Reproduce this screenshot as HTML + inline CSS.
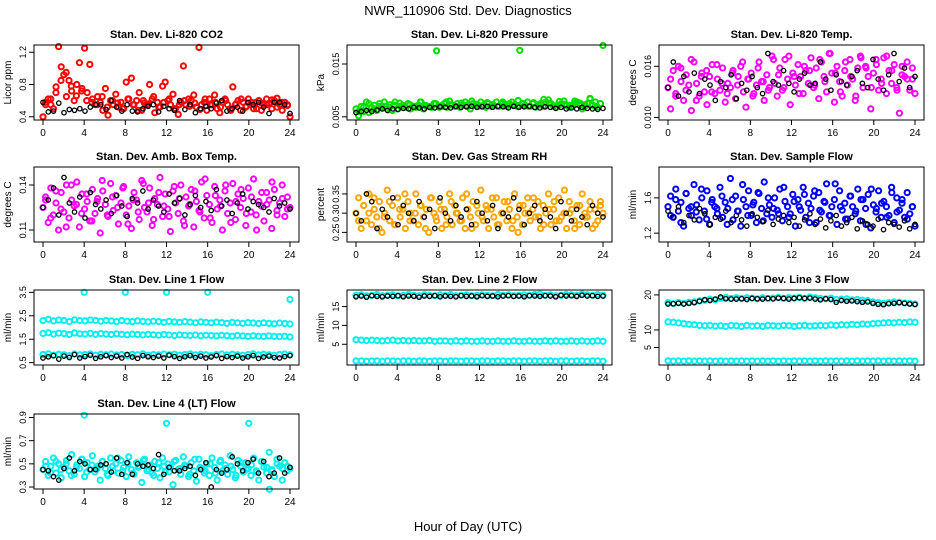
<!DOCTYPE html>
<html><head><meta charset="utf-8"><style>
body{margin:0;background:#fff;}
svg{display:block;font-family:"Liberation Sans",Arial,sans-serif;}
</style></head><body>
<svg id="chart" width="936" height="540" viewBox="0 0 936 540" xmlns="http://www.w3.org/2000/svg">
<rect width="936" height="540" fill="#fff"/>
<text x="468" y="15" font-size="13" text-anchor="middle">NWR_110906  Std. Dev. Diagnostics</text>
<text x="468" y="531" font-size="13" text-anchor="middle">Hour of Day (UTC)</text>
<g id="plots"></g>
</svg>
<script>
const xTicks=[0,4,8,12,16,20,24];
// CO2
const co2Red=[0.40,0.58,0.62,0.55,0.50,0.77,1.27,1.02,0.92,0.65,0.85,0.72,0.60,0.80,1.07,0.75,1.25,0.70,1.05,0.62,0.55,0.65,0.58,0.48,0.75,0.42,0.60,0.55,0.68,0.52,0.58,0.50,0.83,0.62,0.88,0.55,0.60,0.70,0.48,0.57,0.55,0.80,0.62,0.45,0.58,0.52,0.78,0.83,0.60,0.55,0.68,0.50,0.43,0.58,1.03,0.55,0.62,0.60,0.67,0.52,1.26,0.55,0.58,0.48,0.62,0.55,0.67,0.50,0.45,0.58,0.62,0.55,0.50,0.77,0.55,0.60,0.48,0.58,0.52,0.62,0.55,0.50,0.58,0.60,0.48,0.55,0.62,0.57,0.50,0.60,0.63,0.55,0.48,0.58,0.55,0.40];
const co2Red2=[0.55,0.62,0.70,0.85,0.95,0.78,0.66,0.72,0.60,0.58,0.55,0.65,0.52,0.60,0.57,0.50,0.62,0.55,0.48,0.60,0.56,0.65,0.52,0.58,0.62,0.50,0.55,0.60,0.53,0.57,0.49,0.62,0.55,0.58,0.52,0.60,0.48,0.56,0.62,0.53,0.58,0.50,0.57,0.55,0.61,0.52,0.58,0.54];
const co2Black=[0.58,0.46,0.47,0.57,0.45,0.49,0.48,0.50,0.47,0.52,0.55,0.55,0.49,0.60,0.52,0.47,0.55,0.47,0.46,0.50,0.53,0.55,0.46,0.53,0.50,0.48,0.60,0.49,0.55,0.45,0.50,0.53,0.50,0.57,0.60,0.47,0.50,0.52,0.47,0.58,0.55,0.58,0.52,0.44,0.58,0.58,0.55,0.44];
// Pressure (x 0.001 kPa)
const presGreen=[6.5,5.2,7.0,6.0,7.8,5.8,6.8,7.2,6.2,7.5,6.8,7.0,6.5,7.3,6.2,7.8,6.5,7.0,7.2,6.8,7.5,6.5,7.0,6.8,7.2,7.8,6.5,7.0,7.0,6.8,7.5,17.5,6.8,7.0,7.5,6.8,8.0,7.2,7.0,7.5,6.8,7.2,7.8,7.0,6.5,7.5,7.2,7.0,7.8,7.2,6.8,7.5,7.0,7.2,7.8,7.0,7.5,7.2,7.0,7.5,7.8,7.2,7.0,17.6,7.5,7.2,7.8,7.0,7.5,6.8,7.2,7.5,7.0,7.8,8.2,7.5,7.0,6.8,7.2,7.5,8.0,7.2,6.8,7.0,7.5,7.8,7.2,6.5,7.0,7.5,8.5,7.2,7.0,6.8,7.5,18.5];
const presGreen2=[6.0,6.8,7.5,6.5,7.0,7.8,6.8,7.2,7.6,6.9,7.3,7.0,7.8,7.2,6.9,7.5,7.1,7.8,7.3,7.0,7.6,7.2,8.0,7.4,7.1,7.7,7.3,7.0,7.8,7.4,7.2,8.1,7.5,7.0,7.7,7.3,8.3,7.6,7.1,7.9,7.4,7.2,8.0,7.6,7.3,8.4,7.8,7.5];
const presBlack=[5.8,6.0,6.2,6.0,6.3,6.5,6.2,6.5,6.4,6.6,6.5,6.8,6.7,6.5,6.8,6.7,6.9,6.8,6.7,7.0,6.8,6.9,7.0,6.8,6.9,7.0,6.8,7.0,6.9,6.7,7.0,6.8,6.9,7.0,6.8,6.7,6.9,6.8,6.6,6.8,6.5,6.7,6.5,6.8,6.6,6.5,6.4,6.6];
// Li-820 Temp (x 0.001)
const tempMag=[13.5,11.0,15.5,12.8,16.0,14.2,12.0,15.0,13.8,10.8,16.5,14.0,12.5,15.2,13.0,11.5,14.8,16.2,12.8,14.5,13.2,15.8,11.8,14.0,13.5,15.5,12.2,14.8,16.0,13.0,11.2,14.5,15.2,12.8,13.8,16.5,14.2,12.0,15.0,13.5,17.2,14.0,12.5,15.8,13.2,16.8,14.5,11.5,15.2,13.8,16.2,14.8,12.8,15.5,14.0,17.0,13.5,15.8,12.2,16.5,14.8,13.0,17.5,15.2,11.8,16.0,14.2,12.5,15.5,13.8,16.8,14.5,12.0,15.8,17.2,13.5,16.0,14.8,11.0,15.2,16.8,13.2,14.5,17.0,12.8,15.5,14.0,16.2,13.5,10.5,15.0,14.8,16.5,13.2,14.5,12.8];
const tempMag2=[14.5,12.5,15.8,13.2,16.8,12.0,14.8,15.5,13.0,16.2,14.0,12.8,15.2,13.8,16.5,14.5,12.5,15.8,14.2,13.2,16.8,15.0,13.5,17.2,14.8,12.8,16.0,15.5,13.8,16.8,14.2,17.5,15.2,13.0,16.5,14.8,12.5,17.0,15.8,13.5,16.2,14.0,17.2,15.5,13.2,16.0,14.5,15.8];
const tempBlack=[13.5,16.5,12.5,14.8,13.0,15.2,12.8,14.5,13.8,12.0,14.2,13.5,15.0,12.2,14.0,13.2,14.8,13.5,12.8,17.5,14.2,13.8,15.5,14.0,13.0,14.5,15.2,13.8,14.0,16.5,14.5,13.2,15.0,14.2,13.8,14.8,15.5,14.0,13.5,16.8,14.5,13.2,15.0,17.5,14.2,15.8,13.5,14.8];
// Amb Box Temp (x 0.001)
const ambMag=[125,132,115,138,120,128,110,135,122,140,118,130,126,142,112,134,124,129,116,137,121,131,108,136,127,119,141,123,133,114,128,139,120,126,111,135,130,117,143,125,122,138,113,131,127,145,119,134,124,109,136,128,121,140,116,132,126,137,112,129,123,142,118,133,127,115,139,124,130,110,136,121,128,141,117,134,125,131,113,138,122,144,120,129,126,116,135,130,111,137,123,128,140,119,132,125];
const ambMag2=[130,118,136,124,112,140,127,121,134,116,129,143,120,132,125,138,114,130,122,141,128,117,135,126,119,139,131,113,127,136,122,144,118,133,126,140,115,129,137,121,132,110,135,127,142,120,131,124];
const ambBlack=[125,130,138,120,145,128,122,132,118,135,127,124,130,121,133,126,119,131,128,136,124,130,126,122,134,128,131,120,127,133,125,129,123,137,126,130,121,128,134,124,129,127,125,122,131,126,128,124];
// Gas stream RH (x 0.01)
const rhOrange=[30,34,26,32,28,35,27,31,29,33,25,30,36,28,32,27,34,29,31,26,33,30,28,35,27,32,29,31,25,34,30,28,33,26,31,29,35,27,32,30,28,34,26,31,29,33,27,30,36,28,32,26,31,29,34,27,30,33,28,31,26,35,29,32,27,30,34,28,31,29,33,26,32,30,35,27,31,28,34,29,30,26,33,31,28,32,27,35,30,29,33,26,31,28,32,30];
const rhOrange2=[28,32,30,34,26,29,33,27,31,35,28,30,32,26,34,29,31,27,33,30,28,35,26,32,29,31,34,27,30,33,28,25,32,30,34,29,27,31,33,28,36,30,26,32,29,31,27,33];
const rhBlack=[30,28,35,33,26,31,29,34,27,32,30,28,33,29,31,26,34,30,28,32,29,31,27,33,30,28,32,26,30,29,34,31,27,30,32,28,31,29,26,33,30,28,31,29,27,32,30,29];
// Sample flow (x 0.01)
const sfBlue=[150,162,138,170,145,155,128,165,148,140,175,152,135,160,145,168,130,158,150,142,172,138,155,148,182,135,162,145,128,158,150,168,140,155,132,165,148,178,142,152,138,160,146,170,134,156,150,142,164,128,158,146,172,138,154,148,162,132,166,144,156,176,140,150,158,130,168,146,154,136,162,150,142,170,134,158,148,164,126,152,144,168,138,156,150,140,172,132,160,146,154,138,166,142,150,128];
const sfBlue2=[140,158,132,165,150,144,170,136,155,148,162,130,158,145,175,140,152,166,134,160,148,142,172,138,156,150,164,132,168,146,155,140,176,150,136,162,145,158,130,170,148,154,138,166,144,158,136,150];
const sfBlack=[145,138,150,132,140,135,148,142,130,138,136,145,132,140,135,128,142,138,133,146,130,136,140,132,138,128,135,142,130,136,126,134,140,128,132,138,125,134,130,128,136,124,132,130,127,134,125,130];
// Line 1
const l1High=[2.30,2.35,2.28,2.32,2.30,2.25,2.33,2.30,2.28,2.32,2.30,2.27,2.30,2.28,2.25,2.30,2.27,2.25,2.28,2.26,2.24,2.27,2.25,2.22,2.26,2.24,2.22,2.25,2.23,2.20,2.24,2.22,2.20,2.23,2.21,2.18,2.22,2.20,2.18,2.21,2.19,2.17,2.20,2.18,2.16,2.19,2.17,2.15];
const l1Mid=[1.75,1.78,1.72,1.76,1.74,1.70,1.77,1.73,1.72,1.75,1.71,1.74,1.72,1.70,1.73,1.71,1.69,1.72,1.70,1.68,1.71,1.69,1.67,1.70,1.68,1.66,1.69,1.67,1.66,1.68,1.65,1.67,1.66,1.64,1.67,1.65,1.63,1.66,1.64,1.62,1.65,1.63,1.62,1.64,1.62,1.61,1.63,1.60];
const l1Low=[0.85,0.88,0.82,0.86,0.84,0.80,0.87,0.83,0.85,0.88,0.82,0.86,0.84,0.87,0.83,0.85,0.80,0.86,0.84,0.88,0.82,0.85,0.83,0.87,0.84,0.86,0.82,0.85,0.88,0.83,0.86,0.84,0.80,0.85,0.87,0.83,0.86,0.84,0.82,0.85,0.88,0.83,0.86,0.84,0.82,0.85,0.87,0.84];
const l1OutHours=[4,8,12,16,24];
const l1OutVals=[3.5,3.5,3.5,3.5,3.2];
const l1Black=[0.70,0.75,0.80,0.65,0.78,0.72,0.85,0.70,0.76,0.82,0.68,0.75,0.80,0.72,0.78,0.70,0.85,0.74,0.68,0.80,0.75,0.72,0.78,0.70,0.82,0.76,0.68,0.75,0.80,0.72,0.78,0.70,0.74,0.80,0.68,0.76,0.72,0.78,0.70,0.75,0.80,0.68,0.74,0.78,0.72,0.70,0.76,0.80];
// Line 2
const l2High=[18.0,18.1,17.9,18.0,18.2,17.9,18.0,18.1,17.9,18.0,18.2,18.0,17.9,18.1,18.0,17.9,18.1,18.0,18.2,17.9,18.0,18.1,17.9,18.0,18.1,18.0,17.9,18.2,18.0,18.1,17.9,18.0,18.1,18.0,18.2,18.3,18.0,18.1,17.9,18.0,18.2,18.1,18.0,18.3,18.1,18.0,18.2,18.0];
const l2Mid=[6.2,6.1,6.0,6.1,6.0,5.9,6.0,6.1,5.9,6.0,5.9,6.0,5.9,5.9,6.0,5.8,5.9,5.9,5.8,5.9,5.8,5.9,5.8,5.8,5.9,5.8,5.8,5.9,5.8,5.8,5.9,5.8,5.8,5.9,5.8,5.8,5.9,5.8,5.9,5.8,5.8,5.9,5.8,5.9,5.8,5.8,5.9,5.8];
const l2Low=[0.6,0.6,0.5,0.6,0.6,0.5,0.6,0.6,0.5,0.6,0.6,0.5,0.6,0.6,0.5,0.6,0.6,0.5,0.6,0.6,0.5,0.6,0.6,0.5,0.6,0.6,0.5,0.6,0.6,0.5,0.6,0.6,0.5,0.6,0.6,0.5,0.6,0.6,0.5,0.6,0.6,0.5,0.6,0.6,0.5,0.6,0.6,0.5];
const l2Black=[17.6,17.8,17.5,17.9,17.7,17.6,17.8,17.7,17.9,17.6,17.8,17.7,17.5,17.8,17.7,17.9,17.6,17.8,17.7,17.6,17.9,17.7,17.8,17.6,17.9,17.7,17.8,17.6,17.8,17.9,17.7,17.8,17.6,17.9,17.8,17.7,17.9,17.8,17.6,18.0,17.8,17.9,17.7,18.0,17.8,17.9,17.7,17.8];
// Line 3
const l3High=[17.8,17.5,17.8,17.6,17.9,18.0,18.3,18.5,18.8,18.6,19.0,19.3,19.0,19.2,19.0,19.2,19.1,18.9,19.2,19.0,19.1,19.3,19.0,19.2,19.1,19.3,19.0,19.4,19.2,19.0,18.9,19.1,18.7,18.8,18.9,18.6,18.7,18.5,18.4,18.0,17.8,17.6,17.8,18.0,17.9,17.7,17.6,17.4];
const l3Mid=[12.3,12.2,12.0,11.8,11.6,11.5,11.3,11.2,11.3,11.1,11.2,11.0,11.3,11.2,11.0,11.3,11.1,11.2,11.0,11.3,11.2,11.1,11.3,11.2,11.0,11.2,11.3,11.1,11.2,11.3,11.2,11.4,11.3,11.5,11.4,11.6,11.5,11.7,11.6,11.8,11.9,12.0,12.1,12.0,12.2,12.1,12.3,12.2];
const l3Low=[1.2,1.1,1.2,1.1,1.2,1.1,1.2,1.1,1.2,1.1,1.2,1.1,1.2,1.1,1.2,1.1,1.2,1.1,1.2,1.1,1.2,1.1,1.2,1.1,1.2,1.1,1.2,1.1,1.2,1.1,1.2,1.1,1.2,1.1,1.2,1.1,1.2,1.1,1.2,1.1,1.2,1.1,1.2,1.1,1.2,1.1,1.2,1.1];
const l3Black=[17.4,17.5,17.6,17.4,17.6,17.8,18.2,18.6,18.4,18.8,19.4,18.9,18.8,18.8,18.9,18.7,19.0,18.9,18.8,19.0,18.9,19.1,19.0,18.8,19.0,19.2,19.0,19.1,18.8,18.6,18.9,18.7,17.9,18.4,18.2,18.3,18.1,17.9,18.0,17.6,17.3,17.2,17.5,17.6,17.8,17.6,17.4,17.3];
// Line 4
const l4Cyan=[0.45,0.52,0.40,0.48,0.55,0.42,0.50,0.38,0.47,0.53,0.44,0.58,0.41,0.49,0.46,0.54,0.39,0.51,0.45,0.57,0.43,0.48,0.36,0.52,0.46,0.40,0.55,0.44,0.50,0.42,0.53,0.47,0.39,0.56,0.45,0.41,0.51,0.48,0.34,0.54,0.44,0.49,0.42,0.52,0.46,0.38,0.55,0.43,0.50,0.47,0.32,0.53,0.45,0.41,0.56,0.48,0.39,0.51,0.44,0.35,0.54,0.46,0.42,0.50,0.40,0.55,0.47,0.36,0.52,0.44,0.49,0.41,0.57,0.45,0.38,0.53,0.48,0.43,0.51,0.46,0.40,0.55,0.44,0.36,0.52,0.47,0.42,0.60,0.45,0.39,0.54,0.48,0.36,0.51,0.44,0.46];
const l4Cyan2=[0.48,0.42,0.52,0.45,0.50,0.40,0.47,0.54,0.43,0.49,0.46,0.52,0.41,0.48,0.55,0.44,0.50,0.42,0.47,0.53,0.45,0.40,0.51,0.48,0.43,0.52,0.46,0.49,0.41,0.54,0.47,0.44,0.50,0.42,0.53,0.46,0.48,0.40,0.51,0.45,0.49,0.43,0.52,0.47,0.44,0.50,0.46,0.48];
const l4OutHours=[4,12,20,22];
const l4OutVals=[0.92,0.85,0.85,0.28];
const l4Black=[0.45,0.44,0.39,0.36,0.46,0.55,0.44,0.52,0.50,0.45,0.45,0.49,0.50,0.43,0.55,0.41,0.51,0.41,0.50,0.48,0.49,0.46,0.58,0.41,0.47,0.44,0.44,0.46,0.48,0.40,0.45,0.51,0.30,0.45,0.42,0.45,0.56,0.50,0.44,0.51,0.54,0.42,0.52,0.39,0.42,0.55,0.42,0.47];

const RED="#ff0000",GRN="#00dd00",MAG="#ff00ff",ORG="#ffa500",BLU="#0000ff",CYN="#00f0f0",BLK="#000";
const LEFTS=[34,347,659],TOPS=[45,167,290,414],W=265,H=75;
const panels=[
 {name:"co2",title:"Stan. Dev. Li-820 CO2",ylab:"Licor ppm",ylim:[0.36,1.29],yt:[0.4,0.8,1.2],ytl:["0.4","0.8","1.2"],series:[[co2Red,null,RED],[co2Red2,"off",RED],[co2Black,null,BLK]]},
 {name:"pressure",title:"Stan. Dev. Li-820 Pressure",ylab:"kPa",ylim:[4.4,18.6],yt:[5,15],ytl:["0.005","0.015"],series:[[presGreen,null,GRN],[presGreen2,"off",GRN],[presBlack,null,BLK]]},
 {name:"li820-temp",title:"Stan. Dev. Li-820 Temp.",ylab:"degrees C",ylim:[9.7,18.5],yt:[10,16],ytl:["0.010","0.016"],series:[[tempMag,null,MAG],[tempMag2,"off",MAG],[tempBlack,null,BLK]]},
 {name:"amb-box-temp",title:"Stan. Dev. Amb. Box Temp.",ylab:"degrees C",ylim:[102,152],yt:[110,140],ytl:["0.11","0.14"],series:[[ambMag,null,MAG],[ambMag2,"off",MAG],[ambBlack,null,BLK]]},
 {name:"gas-rh",title:"Stan. Dev. Gas Stream RH",ylab:"percent",ylim:[22.5,42],yt:[25,30,35],ytl:["0.25","0.30","0.35"],series:[[rhOrange,null,ORG],[rhOrange2,"off",ORG],[rhBlack,null,BLK]]},
 {name:"sample-flow",title:"Stan. Dev. Sample Flow",ylab:"ml/min",ylim:[110,195],yt:[120,160],ytl:["1.2","1.6"],series:[[sfBlue,null,BLU],[sfBlue2,"off",BLU],[sfBlack,null,BLK]]},
 {name:"line1-flow",title:"Stan. Dev. Line 1 Flow",ylab:"ml/min",ylim:[0.4,3.6],yt:[0.5,1.5,2.5,3.5],ytl:["0.5","1.5","2.5","3.5"],series:[[l1High,null,CYN],[l1Mid,null,CYN],[l1Low,null,CYN],[l1OutVals,l1OutHours,CYN],[l1Black,null,BLK]]},
 {name:"line2-flow",title:"Stan. Dev. Line 2 Flow",ylab:"ml/min",ylim:[-0.5,19.4],yt:[5,10,15],ytl:["5","10","15"],series:[[l2High,null,CYN],[l2Mid,null,CYN],[l2Low,null,CYN],[l2Black,null,BLK]]},
 {name:"line3-flow",title:"Stan. Dev. Line 3 Flow",ylab:"ml/min",ylim:[0,21.4],yt:[5,10,20],ytl:["5","10","20"],series:[[l3High,null,CYN],[l3Mid,null,CYN],[l3Low,null,CYN],[l3Black,null,BLK]]},
 {name:"line4-flow",title:"Stan. Dev. Line 4 (LT) Flow",ylab:"ml/min",ylim:[0.283,0.93],yt:[0.3,0.5,0.7,0.9],ytl:["0.3","0.5","0.7","0.9"],series:[[l4Cyan,null,CYN],[l4Cyan2,"off",CYN],[l4OutVals,l4OutHours,CYN],[l4Black,null,BLK]]}
];
const NS="http://www.w3.org/2000/svg";
const root=document.getElementById("plots");
function mk(tag,attrs,parent){const e=document.createElementNS(NS,tag);for(const k in attrs)e.setAttribute(k,attrs[k]);parent.appendChild(e);return e;}
panels.forEach((p,i)=>{
  const L=LEFTS[i%3],T=TOPS[Math.floor(i/3)];
  const g=mk("g",{},root);
  
  
  const xs=h=>L+9+h*(W-18)/24;
  const ys=v=>T+H-(v-p.ylim[0])/(p.ylim[1]-p.ylim[0])*H;
  const t=mk("text",{x:L+W/2,y:T-7,"font-size":"11","font-weight":"bold","text-anchor":"middle"},g);
  t.textContent=p.title;
  
  
  p.series.forEach(([vals,hours,col],si)=>{
    const sg=mk("g",{fill:"none",stroke:col,"stroke-width":col===BLK?1.3:2},g);
    
    
    const n=vals.length;
    vals.forEach((v,j)=>{
      let h;
      if(hours==="off") h=0.25+j*23.5/(n-1);
      else if(hours) h=hours[j];
      else h=j*24/(n-1);
      const c=mk("circle",{cx:xs(h).toFixed(1),cy:ys(v).toFixed(1),r:col===BLK?2.2:2.6},sg);
      
      
    });
  });
  const box=mk("rect",{x:L,y:T,width:W,height:H,fill:"none",stroke:"#000","stroke-width":1},g);
  
  
  const xa=mk("g",{},g);
  
  
  mk("line",{x1:xs(0),x2:xs(24),y1:T+H,y2:T+H,stroke:"#000"},xa);
  xTicks.forEach(h=>{
    mk("line",{x1:xs(h),x2:xs(h),y1:T+H,y2:T+H+5,stroke:"#000"},xa);
    const tl=mk("text",{x:xs(h),y:T+H+16,"font-size":"10","text-anchor":"middle"},xa);
    tl.textContent=h;
  });
  const ya=mk("g",{},g);
  
  
  mk("line",{x1:L,x2:L,y1:ys(p.yt[0]),y2:ys(p.yt[p.yt.length-1]),stroke:"#000"},ya);
  p.yt.forEach((v,k)=>{
    mk("line",{x1:L-5,x2:L,y1:ys(v),y2:ys(v),stroke:"#000"},ya);
    const tl=mk("text",{x:0,y:0,"font-size":"9","text-anchor":"middle",transform:`translate(${L-8},${ys(v)}) rotate(-90)`},ya);
    tl.textContent=p.ytl[k];
  });
  const yl=mk("text",{x:0,y:0,"font-size":"10","text-anchor":"middle",transform:`translate(${L-23},${T+H/2}) rotate(-90)`},g);
  yl.textContent=p.ylab;
  
  
});
</script>
</body></html>
